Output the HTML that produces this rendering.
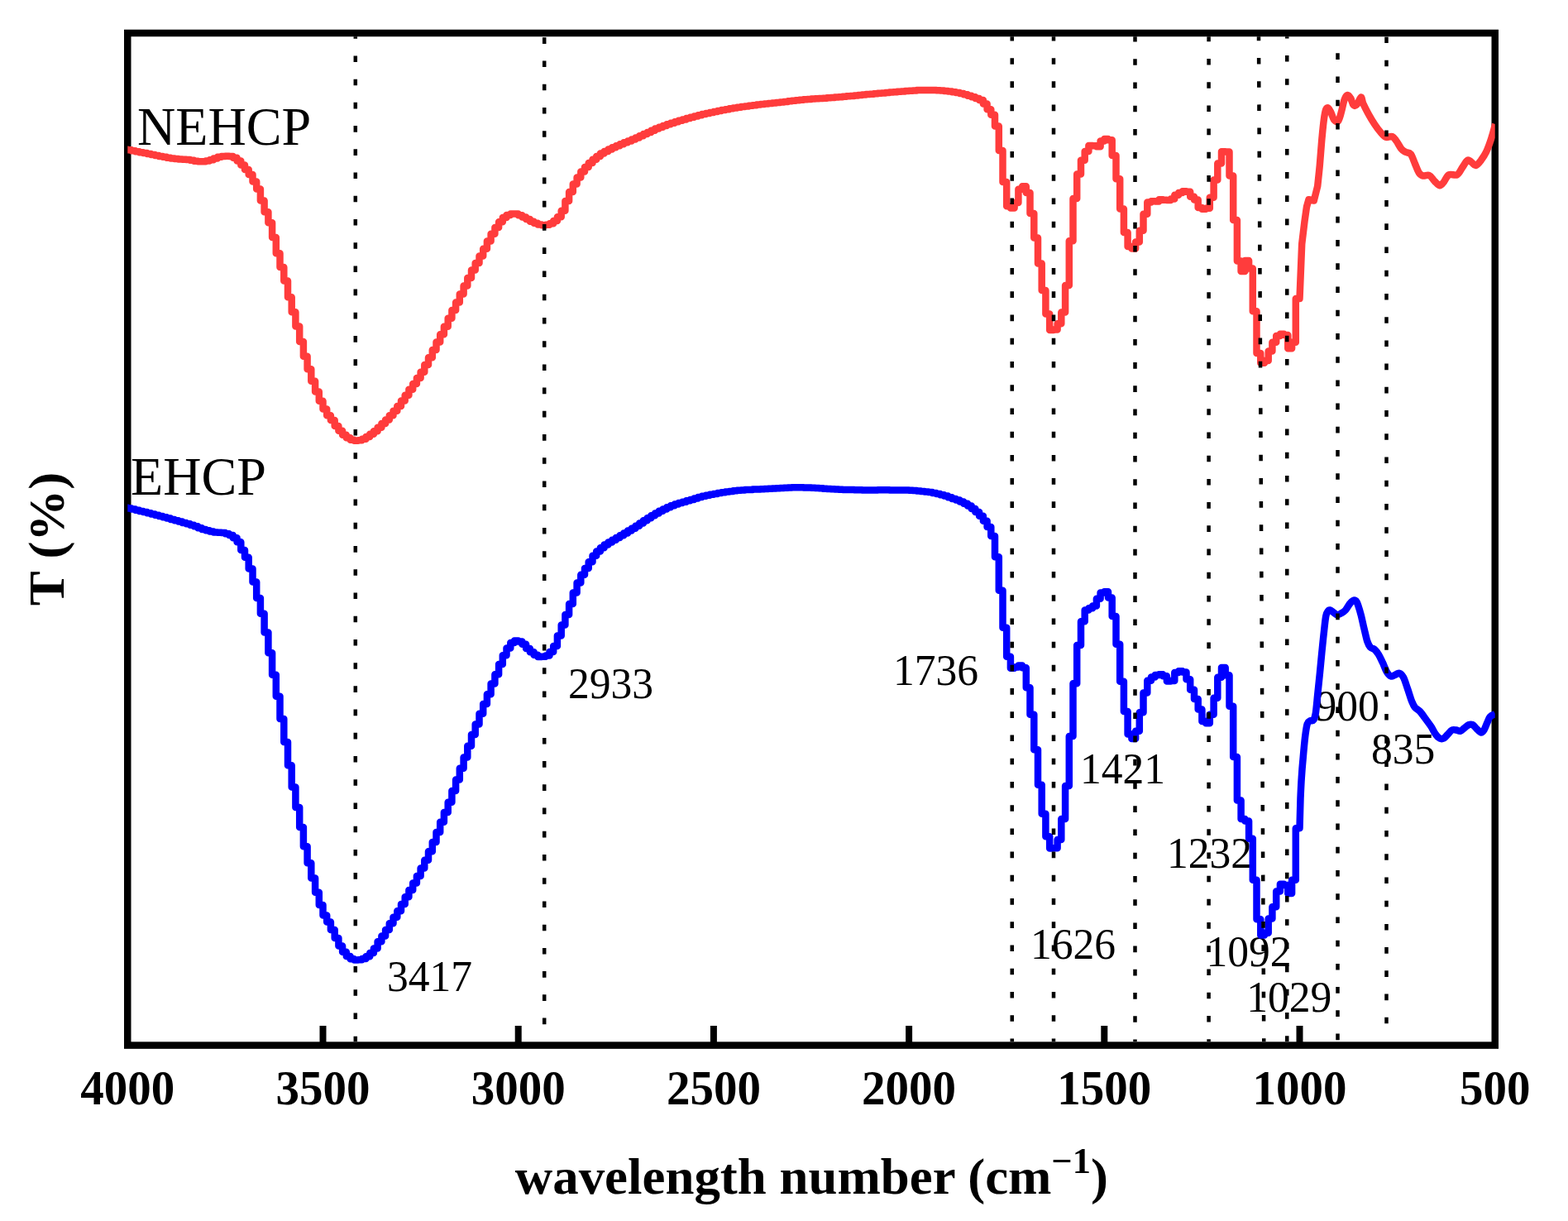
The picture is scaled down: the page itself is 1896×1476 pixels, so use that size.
<!DOCTYPE html>
<html lang="en"><head><meta charset="utf-8"><title>FTIR spectra of NEHCP and EHCP</title>
<style>
html,body{margin:0;padding:0;background:#fff;}
body{width:1896px;height:1476px;overflow:hidden;}
svg{display:block;}
text{font-family:"Liberation Serif","Times New Roman",serif;fill:#000;}
.b{font-weight:bold;}
.tick{font-size:57px;font-weight:bold;text-anchor:middle;}
.pk{font-size:51.6px;}
.nm{font-size:63.5px;}
</style></head><body>
<svg xmlns="http://www.w3.org/2000/svg" width="1896" height="1476" viewBox="0 0 1896 1476">
<rect x="0" y="0" width="1896" height="1476" fill="#ffffff"/>
<rect x="154.25" y="40.00" width="1653.50" height="1223.60" fill="none" stroke="#000" stroke-width="8.5"/>
<g stroke="#000" stroke-width="8" fill="none">
<line x1="390.50" y1="1263.6" x2="390.50" y2="1240.0"/>
<line x1="626.70" y1="1263.6" x2="626.70" y2="1240.0"/>
<line x1="862.90" y1="1263.6" x2="862.90" y2="1240.0"/>
<line x1="1099.10" y1="1263.6" x2="1099.10" y2="1240.0"/>
<line x1="1335.30" y1="1263.6" x2="1335.30" y2="1240.0"/>
<line x1="1571.50" y1="1263.6" x2="1571.50" y2="1240.0"/>
</g>
<text transform="translate(154.30 1334.50) scale(1 1.0300)" font-size="57.00" font-weight="bold" text-anchor="middle">4000</text>
<text transform="translate(390.50 1334.50) scale(1 1.0300)" font-size="57.00" font-weight="bold" text-anchor="middle">3500</text>
<text transform="translate(626.70 1334.50) scale(1 1.0300)" font-size="57.00" font-weight="bold" text-anchor="middle">3000</text>
<text transform="translate(862.90 1334.50) scale(1 1.0300)" font-size="57.00" font-weight="bold" text-anchor="middle">2500</text>
<text transform="translate(1099.10 1334.50) scale(1 1.0300)" font-size="57.00" font-weight="bold" text-anchor="middle">2000</text>
<text transform="translate(1335.30 1334.50) scale(1 1.0300)" font-size="57.00" font-weight="bold" text-anchor="middle">1500</text>
<text transform="translate(1571.50 1334.50) scale(1 1.0300)" font-size="57.00" font-weight="bold" text-anchor="middle">1000</text>
<text transform="translate(1807.70 1334.50) scale(1 1.0300)" font-size="57.00" font-weight="bold" text-anchor="middle">500</text>
<text font-weight="bold" transform="translate(622.8 1443.4) scale(1 0.98)" font-size="62.9">wavelength number (cm<tspan font-size="44.5" dy="-26.3">−1</tspan><tspan dy="26.3">)</tspan></text>
<text font-weight="bold" transform="translate(77 651.5) rotate(-90) scale(1 0.99)" font-size="62.9" text-anchor="middle">T (%)</text>
<text transform="translate(166.00 175.00) scale(1 1.0180)" font-size="64.10">NEHCP</text>
<text transform="translate(158.00 597.50) scale(1 1.0180)" font-size="64.10">EHCP</text>
<text transform="translate(468.00 1198.00) scale(1 1.0400)" font-size="51.60">3417</text>
<text transform="translate(687.00 843.50) scale(1 1.0400)" font-size="51.60">2933</text>
<text transform="translate(1080.00 827.50) scale(1 1.0400)" font-size="51.60">1736</text>
<text transform="translate(1306.00 947.30) scale(1 1.0400)" font-size="51.60">1421</text>
<text transform="translate(1246.00 1158.60) scale(1 1.0400)" font-size="51.60">1626</text>
<text transform="translate(1411.00 1048.70) scale(1 1.0400)" font-size="51.60">1232</text>
<text transform="translate(1458.50 1167.50) scale(1 1.0400)" font-size="51.60">1092</text>
<text transform="translate(1507.20 1223.30) scale(1 1.0400)" font-size="51.60">1029</text>
<text transform="translate(1590.50 870.50) scale(1 1.0400)" font-size="51.60">900</text>
<text transform="translate(1658.00 922.50) scale(1 1.0400)" font-size="51.60">835</text>
<clipPath id="cp"><rect x="154.30" y="40.00" width="1653.40" height="1223.60"/></clipPath>
<g fill="none" stroke-width="8.5" stroke-linejoin="round" stroke-linecap="butt" clip-path="url(#cp)">
<path stroke="#ff3c3c" d="M153.3 180.8L154.3 180.8L154.3 181.3L159.0 181.3L159.0 182.3L163.7 182.3L163.7 183.2L168.5 183.2L168.5 184.2L173.2 184.2L173.2 185.1L177.9 185.1L177.9 186.1L182.6 186.1L182.6 187.0L187.4 187.0L187.4 187.9L192.1 187.9L192.1 188.9L196.8 188.9L196.8 189.8L201.5 189.8L201.5 190.7L206.3 190.7L206.3 191.5L211.0 191.5L211.0 192.1L215.7 192.1L215.7 192.5L220.4 192.5L220.4 192.8L225.2 192.8L225.2 193.1L229.9 193.1L229.9 193.7L234.6 193.7L234.6 194.7L239.3 194.7L239.3 195.3L244.1 195.3L244.1 195.2L248.8 195.2L248.8 194.5L253.5 194.5L253.5 193.2L258.2 193.2L258.2 191.5L263.0 191.5L263.0 189.8L267.7 189.8L267.7 189.0L272.4 189.0L272.4 188.7L277.1 188.7L277.1 189.0L281.8 189.0L281.8 190.7L286.6 190.7L286.6 194.4L291.3 194.4L291.3 199.4L296.0 199.4L296.0 205.1L300.7 205.1L300.7 210.9L305.5 210.9L305.5 219.4L310.2 219.4L310.2 228.4L314.9 228.4L314.9 242.5L319.6 242.5L319.6 256.3L324.4 256.3L324.4 269.3L329.1 269.3L329.1 286.9L333.8 286.9L333.8 306.3L338.5 306.3L338.5 323.0L343.3 323.0L343.3 339.5L348.0 339.5L348.0 359.2L352.7 359.2L352.7 377.2L357.4 377.2L357.4 394.6L362.2 394.6L362.2 413.1L366.9 413.1L366.9 430.8L371.6 430.8L371.6 446.3L376.3 446.3L376.3 460.7L381.1 460.7L381.1 473.4L385.8 473.4L385.8 484.7L390.5 484.7L390.5 494.6L395.2 494.6L395.2 502.2L399.9 502.2L399.9 508.1L404.7 508.1L404.7 514.9L409.4 514.9L409.4 520.7L414.1 520.7L414.1 525.7L418.8 525.7L418.8 529.3L423.6 529.3L423.6 531.7L428.3 531.7L428.3 532.8L433.0 532.8L433.0 532.3L437.7 532.3L437.7 530.7L442.5 530.7L442.5 528.0L447.2 528.0L447.2 524.8L451.9 524.8L451.9 521.3L456.6 521.3L456.6 516.8L461.4 516.8L461.4 512.1L466.1 512.1L466.1 507.5L470.8 507.5L470.8 502.3L475.5 502.3L475.5 496.8L480.3 496.8L480.3 490.9L485.0 490.9L485.0 484.4L489.7 484.4L489.7 477.7L494.4 477.7L494.4 470.8L499.2 470.8L499.2 463.9L503.9 463.9L503.9 457.1L508.6 457.1L508.6 449.8L513.3 449.8L513.3 441.1L518.0 441.1L518.0 432.2L522.8 432.2L522.8 423.0L527.5 423.0L527.5 413.6L532.2 413.6L532.2 404.2L536.9 404.2L536.9 394.8L541.7 394.8L541.7 384.8L546.4 384.8L546.4 374.9L551.1 374.9L551.1 365.5L555.8 365.5L555.8 355.6L560.6 355.6L560.6 345.5L565.3 345.5L565.3 335.9L570.0 335.9L570.0 326.4L574.7 326.4L574.7 318.0L579.5 318.0L579.5 309.4L584.2 309.4L584.2 300.7L588.9 300.7L588.9 291.6L593.6 291.6L593.6 282.8L598.4 282.8L598.4 275.0L603.1 275.0L603.1 268.2L607.8 268.2L607.8 263.1L612.5 263.1L612.5 260.1L617.3 260.1L617.3 258.4L622.0 258.4L622.0 258.5L626.7 258.5L626.7 260.3L631.4 260.3L631.4 262.6L636.1 262.6L636.1 265.1L640.9 265.1L640.9 267.7L645.6 267.7L645.6 269.8L650.3 269.8L650.3 271.5L655.0 271.5L655.0 272.3L659.8 272.3L659.8 271.8L664.5 271.8L664.5 270.2L669.2 270.2L669.2 267.1L673.9 267.1L673.9 262.2L678.7 262.2L678.7 254.7L683.4 254.7L683.4 243.0L688.1 243.0L688.1 232.0L692.8 232.0L692.8 222.6L697.6 222.6L697.6 214.5L702.3 214.5L702.3 207.6L707.0 207.6L707.0 201.9L711.7 201.9L711.7 197.0L716.5 197.0L716.5 192.7L721.2 192.7L721.2 188.9L725.9 188.9L725.9 185.6L730.6 185.6L730.6 182.9L735.4 182.9L735.4 180.4L740.1 180.4L740.1 178.3L744.8 178.3L744.8 176.2L749.5 176.2L749.5 174.2L754.2 174.2L754.2 172.3L759.0 172.3L759.0 170.5L763.7 170.5L763.7 168.6L768.4 168.6L768.4 166.5L773.1 166.5L773.1 164.3L777.9 164.3L777.9 162.1L782.6 162.1L782.6 159.9L787.3 159.9L787.3 157.8L792.0 157.8L792.0 155.6L796.8 155.6L796.8 153.7L801.5 153.7L801.5 151.9L806.2 151.9L806.2 150.3L810.9 150.3L810.9 148.8L815.7 148.8L815.7 147.3L820.4 147.3L820.4 145.8L825.1 145.8L825.1 144.4L829.8 144.4L829.8 143.0L834.6 143.0L834.6 141.7L839.3 141.7L839.3 140.4L844.0 140.4L844.0 139.2L848.7 139.2L848.7 138.1L853.5 138.1L853.5 137.0L858.2 137.0L858.2 136.0L862.9 136.0L862.9 135.0L867.6 135.0L867.6 134.0L872.3 134.0L872.3 133.0L877.1 133.0L877.1 132.2L881.8 132.2L881.8 131.3L886.5 131.3L886.5 130.5L891.2 130.5L891.2 129.8L896.0 129.8L896.0 129.1L900.7 129.1L900.7 128.4L905.4 128.4L905.4 127.8L910.1 127.8L910.1 127.2L914.9 127.2L914.9 126.6L919.6 126.6L919.6 126.0L924.3 126.0L924.3 125.5L929.0 125.5L929.0 125.0L933.8 125.0L933.8 124.5L938.5 124.5L938.5 123.9L943.2 123.9L943.2 123.4L947.9 123.4L947.9 122.9L952.7 122.9L952.7 122.3L957.4 122.3L957.4 121.7L962.1 121.7L962.1 121.2L966.8 121.2L966.8 120.7L971.6 120.7L971.6 120.3L976.3 120.3L976.3 119.9L981.0 119.9L981.0 119.6L985.7 119.6L985.7 119.3L990.4 119.3L990.4 119.0L995.2 119.0L995.2 118.7L999.9 118.7L999.9 118.3L1004.6 118.3L1004.6 118.0L1009.3 118.0L1009.3 117.6L1014.1 117.6L1014.1 117.2L1018.8 117.2L1018.8 116.7L1023.5 116.7L1023.5 116.3L1028.2 116.3L1028.2 115.9L1033.0 115.9L1033.0 115.4L1037.7 115.4L1037.7 115.0L1042.4 115.0L1042.4 114.6L1047.1 114.6L1047.1 114.1L1051.9 114.1L1051.9 113.7L1056.6 113.7L1056.6 113.3L1061.3 113.3L1061.3 112.8L1066.0 112.8L1066.0 112.4L1070.8 112.4L1070.8 112.0L1075.5 112.0L1075.5 111.6L1080.2 111.6L1080.2 111.2L1084.9 111.2L1084.9 110.8L1089.7 110.8L1089.7 110.4L1094.4 110.4L1094.4 110.0L1099.1 110.0L1099.1 109.7L1103.8 109.7L1103.8 109.4L1108.5 109.4L1108.5 109.1L1113.3 109.1L1113.3 109.0L1118.0 109.0L1118.0 108.9L1122.7 108.9L1122.7 108.9L1127.4 108.9L1127.4 109.0L1132.2 109.0L1132.2 109.2L1136.9 109.2L1136.9 109.5L1141.6 109.5L1141.6 109.9L1146.3 109.9L1146.3 110.5L1151.1 110.5L1151.1 111.2L1155.8 111.2L1155.8 112.0L1160.5 112.0L1160.5 113.1L1165.2 113.1L1165.2 114.2L1170.0 114.2L1170.0 115.7L1174.7 115.7L1174.7 117.3L1179.4 117.3L1179.4 118.9L1184.1 118.9L1184.1 120.9L1188.9 120.9L1188.9 125.4L1193.6 125.4L1193.6 132.3L1198.3 132.3L1198.3 138.8L1203.0 138.8L1203.0 152.5L1207.8 152.5L1207.8 182.1L1212.5 182.1L1212.5 220.0L1217.2 220.0L1217.2 249.3L1221.9 249.3L1221.9 251.5L1226.6 251.5L1226.6 245.0L1231.4 245.0L1231.4 228.8L1236.1 228.8L1236.1 225.2L1240.8 225.2L1240.8 233.1L1245.5 233.1L1245.5 258.1L1250.3 258.1L1250.3 287.5L1255.0 287.5L1255.0 318.5L1259.7 318.5L1259.7 351.0L1264.4 351.0L1264.4 379.4L1269.2 379.4L1269.2 399.1L1273.9 399.1L1273.9 398.5L1278.6 398.5L1278.6 391.2L1283.3 391.2L1283.3 377.5L1288.1 377.5L1288.1 345.0L1292.8 345.0L1292.8 291.2L1297.5 291.2L1297.5 240.0L1302.2 240.0L1302.2 210.4L1307.0 210.4L1307.0 193.8L1311.7 193.8L1311.7 182.9L1316.4 182.9L1316.4 176.1L1321.1 176.1L1321.1 176.3L1325.9 176.3L1325.9 177.2L1330.6 177.2L1330.6 170.5L1335.3 170.5L1335.3 168.0L1340.0 168.0L1340.0 169.3L1344.7 169.3L1344.7 187.9L1349.5 187.9L1349.5 216.3L1354.2 216.3L1354.2 252.5L1358.9 252.5L1358.9 281.0L1363.6 281.0L1363.6 298.1L1368.4 298.1L1368.4 300.4L1373.1 300.4L1373.1 292.5L1377.8 292.5L1377.8 278.7L1382.5 278.7L1382.5 258.7L1387.3 258.7L1387.3 244.6L1392.0 244.6L1392.0 243.2L1396.7 243.2L1396.7 243.5L1401.4 243.5L1401.4 241.3L1406.2 241.3L1406.2 241.7L1410.9 241.7L1410.9 241.9L1415.6 241.9L1415.6 240.6L1420.3 240.6L1420.3 235.7L1425.1 235.7L1425.1 233.0L1429.8 233.0L1429.8 231.2L1434.5 231.2L1434.5 231.7L1439.2 231.7L1439.2 237.7L1444.0 237.7L1444.0 241.6L1448.7 241.6L1448.7 251.0L1453.4 251.0L1453.4 252.8L1458.1 252.8L1458.1 251.7L1462.8 251.7L1462.8 238.8L1467.6 238.8L1467.6 217.5L1472.3 217.5L1472.3 197.5L1477.0 197.5L1477.0 183.3L1481.7 183.3L1481.7 183.4L1486.5 183.4L1486.5 212.5L1491.2 212.5L1491.2 266.0L1495.9 266.0L1495.9 315.6L1500.6 315.6L1500.6 328.1L1505.4 328.1L1505.4 315.0L1510.1 315.0L1510.1 324.4L1514.8 324.4L1514.8 376.3L1519.5 376.3L1519.5 426.9L1524.3 426.9L1524.3 438.8L1529.0 438.8L1529.0 436.1L1533.7 436.1L1533.7 424.4L1538.4 424.4L1538.4 413.7L1543.2 413.7L1543.2 405.9L1547.9 405.9L1547.9 403.8L1552.6 403.8L1552.6 405.0L1557.3 405.0L1557.3 421.3L1562.1 421.3L1562.1 413.8L1566.8 413.8L1566.8 361.0L1571.5 361.0L1574.2 295.0L1577.5 267.5L1580.0 250.0L1582.5 241.2L1588.8 242.5L1593.2 225.0C1593.7 220.8 1594.9 209.2 1595.8 200.0C1596.6 190.8 1597.4 179.2 1598.2 170.0C1599.1 160.8 1599.9 151.2 1600.8 145.0C1601.6 138.8 1602.3 134.9 1603.2 132.5C1604.2 130.1 1605.2 130.1 1606.2 130.8C1607.3 131.4 1608.3 133.9 1609.5 136.2C1610.7 138.6 1611.8 143.3 1613.2 145.0C1614.7 146.7 1616.8 147.9 1618.2 146.2C1619.7 144.6 1620.8 139.4 1622.0 135.0C1623.2 130.6 1624.5 123.3 1625.8 120.0C1627.0 116.7 1628.2 115.2 1629.5 115.0C1630.8 114.8 1632.1 116.8 1633.2 118.8C1634.4 120.8 1635.2 125.8 1636.5 127.0C1637.8 128.2 1639.2 127.8 1640.8 126.2C1642.3 124.7 1644.5 117.7 1645.8 117.5C1647.0 117.3 1646.8 121.7 1648.2 125.0C1649.7 128.3 1652.2 133.3 1654.5 137.5C1656.8 141.7 1659.5 146.2 1662.0 150.0C1664.5 153.8 1667.2 157.4 1669.5 160.0C1671.8 162.6 1673.5 164.9 1675.8 165.8C1678.0 166.6 1681.2 164.3 1683.2 165.0C1685.3 165.7 1686.4 167.5 1688.2 170.0C1690.1 172.5 1692.6 177.7 1694.5 180.0C1696.4 182.3 1697.6 182.7 1699.5 183.8C1701.4 184.8 1703.9 184.0 1705.8 186.2C1707.6 188.5 1709.1 193.8 1710.8 197.5C1712.4 201.2 1714.1 206.2 1715.8 208.8C1717.4 211.2 1718.7 212.0 1720.8 212.5C1722.8 213.0 1726.0 211.0 1728.2 212.0C1730.5 213.0 1732.4 216.7 1734.5 218.8C1736.6 220.8 1738.9 224.0 1740.8 224.2C1742.6 224.5 1743.9 222.2 1745.8 220.0C1747.6 217.8 1749.3 212.7 1752.0 211.2C1754.7 209.8 1759.3 212.7 1762.0 211.2C1764.7 209.8 1766.2 205.4 1768.2 202.5C1770.3 199.6 1772.6 194.8 1774.5 193.8C1776.4 192.7 1777.8 195.2 1779.5 196.2C1781.2 197.3 1782.6 200.4 1784.5 200.0C1786.4 199.6 1788.7 196.5 1790.8 193.8C1792.8 191.0 1794.9 188.1 1797.0 183.8C1799.1 179.4 1801.4 173.1 1803.2 167.5C1805.1 161.9 1807.4 152.9 1808.2 150.0"/>
<path stroke="#0000ff" d="M153.3 613.8L154.3 613.8L154.3 614.5L159.0 614.5L159.0 615.6L163.7 615.6L163.7 616.7L168.5 616.7L168.5 617.9L173.2 617.9L173.2 619.0L177.9 619.0L177.9 620.2L182.6 620.2L182.6 621.4L187.4 621.4L187.4 622.7L192.1 622.7L192.1 624.0L196.8 624.0L196.8 625.3L201.5 625.3L201.5 626.6L206.3 626.6L206.3 627.9L211.0 627.9L211.0 629.3L215.7 629.3L215.7 630.6L220.4 630.6L220.4 631.9L225.2 631.9L225.2 633.2L229.9 633.2L229.9 634.7L234.6 634.7L234.6 636.3L239.3 636.3L239.3 638.2L244.1 638.2L244.1 639.9L248.8 639.9L248.8 641.3L253.5 641.3L253.5 642.5L258.2 642.5L258.2 643.4L263.0 643.4L263.0 643.8L267.7 643.8L267.7 644.0L272.4 644.0L272.4 645.2L277.1 645.2L277.1 647.0L281.8 647.0L281.8 650.3L286.6 650.3L286.6 655.2L291.3 655.2L291.3 665.1L296.0 665.1L296.0 673.7L300.7 673.7L300.7 687.6L305.5 687.6L305.5 703.5L310.2 703.5L310.2 722.9L314.9 722.9L314.9 741.8L319.6 741.8L319.6 764.4L324.4 764.4L324.4 789.3L329.1 789.3L329.1 815.8L333.8 815.8L333.8 841.8L338.5 841.8L338.5 868.9L343.3 868.9L343.3 897.1L348.0 897.1L348.0 925.2L352.7 925.2L352.7 951.4L357.4 951.4L357.4 976.1L362.2 976.1L362.2 1000.1L366.9 1000.1L366.9 1023.3L371.6 1023.3L371.6 1043.2L376.3 1043.2L376.3 1061.4L381.1 1061.4L381.1 1078.8L385.8 1078.8L385.8 1093.9L390.5 1093.9L390.5 1106.6L395.2 1106.6L395.2 1114.5L399.9 1114.5L399.9 1123.9L404.7 1123.9L404.7 1133.9L409.4 1133.9L409.4 1143.5L414.1 1143.5L414.1 1150.7L418.8 1150.7L418.8 1155.9L423.6 1155.9L423.6 1159.2L428.3 1159.2L428.3 1160.5L433.0 1160.5L433.0 1160.2L437.7 1160.2L437.7 1159.0L442.5 1159.0L442.5 1156.3L447.2 1156.3L447.2 1152.0L451.9 1152.0L451.9 1146.4L456.6 1146.4L456.6 1138.3L461.4 1138.3L461.4 1131.5L466.1 1131.5L466.1 1124.1L470.8 1124.1L470.8 1116.3L475.5 1116.3L475.5 1108.8L480.3 1108.8L480.3 1101.2L485.0 1101.2L485.0 1092.9L489.7 1092.9L489.7 1084.3L494.4 1084.3L494.4 1075.9L499.2 1075.9L499.2 1067.4L503.9 1067.4L503.9 1058.9L508.6 1058.9L508.6 1049.5L513.3 1049.5L513.3 1039.7L518.0 1039.7L518.0 1029.2L522.8 1029.2L522.8 1017.9L527.5 1017.9L527.5 1006.1L532.2 1006.1L532.2 993.8L536.9 993.8L536.9 981.9L541.7 981.9L541.7 969.7L546.4 969.7L546.4 956.1L551.1 956.1L551.1 942.5L555.8 942.5L555.8 928.7L560.6 928.7L560.6 915.5L565.3 915.5L565.3 901.8L570.0 901.8L570.0 888.0L574.7 888.0L574.7 875.4L579.5 875.4L579.5 862.8L584.2 862.8L584.2 850.9L588.9 850.9L588.9 839.2L593.6 839.2L593.6 826.6L598.4 826.6L598.4 815.2L603.1 815.2L603.1 802.9L607.8 802.9L607.8 792.3L612.5 792.3L612.5 783.4L617.3 783.4L617.3 777.0L622.0 777.0L622.0 774.5L626.7 774.5L626.7 775.6L631.4 775.6L631.4 778.7L636.1 778.7L636.1 784.0L640.9 784.0L640.9 788.3L645.6 788.3L645.6 791.8L650.3 791.8L650.3 793.9L655.0 793.9L655.0 793.8L659.8 793.8L659.8 792.4L664.5 792.4L664.5 788.1L669.2 788.1L669.2 781.0L673.9 781.0L673.9 768.6L678.7 768.6L678.7 755.4L683.4 755.4L683.4 743.1L688.1 743.1L688.1 730.0L692.8 730.0L692.8 716.5L697.6 716.5L697.6 704.5L702.3 704.5L702.3 694.7L707.0 694.7L707.0 687.0L711.7 687.0L711.7 679.3L716.5 679.3L716.5 671.8L721.2 671.8L721.2 666.5L725.9 666.5L725.9 662.3L730.6 662.3L730.6 658.6L735.4 658.6L735.4 655.5L740.1 655.5L740.1 652.7L744.8 652.7L744.8 650.0L749.5 650.0L749.5 647.2L754.2 647.2L754.2 644.4L759.0 644.4L759.0 641.6L763.7 641.6L763.7 638.7L768.4 638.7L768.4 635.7L773.1 635.7L773.1 632.5L777.9 632.5L777.9 629.3L782.6 629.3L782.6 626.3L787.3 626.3L787.3 623.3L792.0 623.3L792.0 620.5L796.8 620.5L796.8 617.8L801.5 617.8L801.5 615.4L806.2 615.4L806.2 613.2L810.9 613.2L810.9 611.3L815.7 611.3L815.7 609.5L820.4 609.5L820.4 608.0L825.1 608.0L825.1 606.7L829.8 606.7L829.8 605.3L834.6 605.3L834.6 603.9L839.3 603.9L839.3 602.4L844.0 602.4L844.0 601.0L848.7 601.0L848.7 599.7L853.5 599.7L853.5 598.7L858.2 598.7L858.2 597.8L862.9 597.8L862.9 596.9L867.6 596.9L867.6 596.1L872.3 596.1L872.3 595.3L877.1 595.3L877.1 594.5L881.8 594.5L881.8 593.9L886.5 593.9L886.5 593.3L891.2 593.3L891.2 592.8L896.0 592.8L896.0 592.4L900.7 592.4L900.7 592.1L905.4 592.1L905.4 591.9L910.1 591.9L910.1 591.6L914.9 591.6L914.9 591.4L919.6 591.4L919.6 591.2L924.3 591.2L924.3 591.0L929.0 591.0L929.0 590.8L933.8 590.8L933.8 590.5L938.5 590.5L938.5 590.3L943.2 590.3L943.2 590.0L947.9 590.0L947.9 589.7L952.7 589.7L952.7 589.5L957.4 589.5L957.4 589.3L962.1 589.3L962.1 589.3L966.8 589.3L966.8 589.3L971.6 589.3L971.6 589.4L976.3 589.4L976.3 589.5L981.0 589.5L981.0 589.7L985.7 589.7L985.7 589.9L990.4 589.9L990.4 590.3L995.2 590.3L995.2 590.7L999.9 590.7L999.9 591.1L1004.6 591.1L1004.6 591.3L1009.3 591.3L1009.3 591.6L1014.1 591.6L1014.1 591.7L1018.8 591.7L1018.8 591.9L1023.5 591.9L1023.5 592.0L1028.2 592.0L1028.2 592.1L1033.0 592.1L1033.0 592.3L1037.7 592.3L1037.7 592.3L1042.4 592.3L1042.4 592.4L1047.1 592.4L1047.1 592.4L1051.9 592.4L1051.9 592.4L1056.6 592.4L1056.6 592.4L1061.3 592.4L1061.3 592.3L1066.0 592.3L1066.0 592.3L1070.8 592.3L1070.8 592.3L1075.5 592.3L1075.5 592.4L1080.2 592.4L1080.2 592.4L1084.9 592.4L1084.9 592.4L1089.7 592.4L1089.7 592.5L1094.4 592.5L1094.4 592.6L1099.1 592.6L1099.1 592.7L1103.8 592.7L1103.8 593.0L1108.5 593.0L1108.5 593.4L1113.3 593.4L1113.3 593.9L1118.0 593.9L1118.0 594.5L1122.7 594.5L1122.7 595.1L1127.4 595.1L1127.4 595.9L1132.2 595.9L1132.2 597.0L1136.9 597.0L1136.9 598.2L1141.6 598.2L1141.6 599.6L1146.3 599.6L1146.3 601.2L1151.1 601.2L1151.1 602.9L1155.8 602.9L1155.8 604.6L1160.5 604.6L1160.5 606.6L1165.2 606.6L1165.2 608.8L1170.0 608.8L1170.0 611.6L1174.7 611.6L1174.7 615.0L1179.4 615.0L1179.4 618.9L1184.1 618.9L1184.1 623.8L1188.9 623.8L1188.9 629.8L1193.6 629.8L1193.6 636.9L1198.3 636.9L1198.3 647.9L1203.0 647.9L1203.0 673.3L1207.8 673.3L1207.8 713.8L1212.5 713.8L1212.5 758.8L1217.2 758.8L1217.2 793.8L1221.9 793.8L1221.9 807.7L1226.6 807.7L1226.6 806.6L1231.4 806.6L1231.4 804.5L1236.1 804.5L1236.1 807.2L1240.8 807.2L1240.8 831.2L1245.5 831.2L1245.5 863.8L1250.3 863.8L1250.3 906.3L1255.0 906.3L1255.0 948.8L1259.7 948.8L1259.7 983.8L1264.4 983.8L1264.4 1011.3L1269.2 1011.3L1269.2 1025.6L1273.9 1025.6L1273.9 1025.2L1278.6 1025.2L1278.6 1015.0L1283.3 1015.0L1283.3 990.0L1288.1 990.0L1288.1 950.0L1292.8 950.0L1292.8 890.0L1297.5 890.0L1297.5 826.2L1302.2 826.2L1302.2 780.0L1307.0 780.0L1307.0 751.2L1311.7 751.2L1311.7 737.6L1316.4 737.6L1316.4 735.2L1321.1 735.2L1321.1 732.5L1325.9 732.5L1325.9 723.7L1330.6 723.7L1330.6 716.5L1335.3 716.5L1335.3 715.2L1340.0 715.2L1340.0 722.5L1344.7 722.5L1344.7 745.0L1349.5 745.0L1349.5 778.8L1354.2 778.8L1354.2 823.8L1358.9 823.8L1358.9 860.0L1363.6 860.0L1363.6 887.5L1368.4 887.5L1368.4 893.1L1373.1 893.1L1373.1 883.7L1377.8 883.7L1377.8 861.2L1382.5 861.2L1382.5 837.5L1387.3 837.5L1387.3 822.7L1392.0 822.7L1392.0 818.6L1396.7 818.6L1396.7 816.0L1401.4 816.0L1401.4 815.2L1406.2 815.2L1406.2 817.2L1410.9 817.2L1410.9 823.4L1415.6 823.4L1415.6 823.1L1420.3 823.1L1420.3 813.1L1425.1 813.1L1425.1 811.2L1429.8 811.2L1429.8 812.4L1434.5 812.4L1434.5 821.2L1439.2 821.2L1439.2 833.8L1444.0 833.8L1444.0 845.0L1448.7 845.0L1448.7 857.5L1453.4 857.5L1453.4 872.0L1458.1 872.0L1458.1 874.2L1462.8 874.2L1462.8 863.8L1467.6 863.8L1467.6 843.7L1472.3 843.7L1472.3 818.7L1477.0 818.7L1477.0 807.0L1481.7 807.0L1481.7 816.2L1486.5 816.2L1486.5 853.8L1491.2 853.8L1491.2 915.0L1495.9 915.0L1495.9 967.5L1500.6 967.5L1500.6 990.0L1505.4 990.0L1505.4 992.5L1510.1 992.5L1510.1 1013.8L1514.8 1013.8L1514.8 1063.8L1519.5 1063.8L1519.5 1111.2L1524.3 1111.2L1524.3 1130.6L1529.0 1130.6L1529.0 1127.8L1533.7 1127.8L1533.7 1110.6L1538.4 1110.6L1538.4 1096.2L1543.2 1096.2L1543.2 1077.5L1547.9 1077.5L1547.9 1068.8L1552.6 1068.8L1552.6 1070.0L1557.3 1070.0L1557.3 1080.0L1562.1 1080.0L1562.1 1063.8L1566.8 1063.8L1566.8 1001.2L1571.5 1001.2L1572.5 965.0C1572.7 960.8 1573.2 948.3 1573.8 940.0C1574.3 931.7 1575.0 923.3 1575.8 915.0C1576.5 906.7 1577.4 896.7 1578.2 890.0C1579.1 883.3 1579.7 878.1 1580.8 875.0C1581.8 871.9 1583.2 872.0 1584.5 871.2C1585.8 870.5 1587.2 872.0 1588.2 870.5C1589.3 869.0 1589.9 867.6 1590.8 862.5C1591.6 857.4 1592.4 847.9 1593.2 840.0C1594.1 832.1 1594.9 823.3 1595.8 815.0C1596.6 806.7 1597.4 798.3 1598.2 790.0C1599.1 781.7 1599.9 772.5 1600.8 765.0C1601.6 757.5 1602.4 749.4 1603.2 745.0C1604.1 740.6 1604.9 740.0 1605.8 738.8C1606.6 737.5 1607.2 737.3 1608.2 737.5C1609.3 737.7 1610.5 739.0 1612.0 740.0C1613.5 741.0 1615.3 743.0 1617.0 743.2C1618.7 743.5 1620.3 742.2 1622.0 741.2C1623.7 740.3 1625.3 739.4 1627.0 737.5C1628.7 735.6 1630.5 731.9 1632.0 730.0C1633.5 728.1 1634.5 726.9 1635.8 726.2C1637.0 725.6 1638.5 725.4 1639.5 726.2C1640.5 727.1 1641.0 728.3 1642.0 731.2C1643.0 734.2 1644.5 739.0 1645.8 743.8C1647.0 748.5 1648.2 754.8 1649.5 760.0C1650.8 765.2 1652.0 771.2 1653.2 775.0C1654.5 778.8 1655.5 780.8 1657.0 782.5C1658.5 784.2 1660.3 783.5 1662.0 785.0C1663.7 786.5 1665.3 788.5 1667.0 791.2C1668.7 794.0 1670.3 797.7 1672.0 801.2C1673.7 804.8 1675.3 809.8 1677.0 812.5C1678.7 815.2 1680.3 817.0 1682.0 817.5C1683.7 818.0 1685.3 816.4 1687.0 815.8C1688.7 815.1 1690.3 813.2 1692.0 813.8C1693.7 814.2 1695.3 815.6 1697.0 818.8C1698.7 821.9 1700.3 827.7 1702.0 832.5C1703.7 837.3 1705.5 843.8 1707.0 847.5C1708.5 851.2 1709.1 852.9 1710.8 855.0C1712.4 857.1 1714.7 857.5 1717.0 860.0C1719.3 862.5 1722.2 866.9 1724.5 870.0C1726.8 873.1 1728.9 875.8 1730.8 878.8C1732.6 881.7 1734.1 885.2 1735.8 887.5C1737.4 889.8 1739.1 891.7 1740.8 892.5C1742.4 893.3 1744.1 893.3 1745.8 892.5C1747.4 891.7 1749.1 889.2 1750.8 887.5C1752.4 885.8 1754.1 883.3 1755.8 882.5C1757.4 881.7 1759.1 882.3 1760.8 882.5C1762.4 882.7 1764.1 884.2 1765.8 883.8C1767.4 883.3 1769.1 881.2 1770.8 880.0C1772.4 878.8 1774.1 876.9 1775.8 876.2C1777.4 875.6 1779.1 875.4 1780.8 876.2C1782.4 877.1 1784.1 879.7 1785.8 881.2C1787.4 882.8 1789.3 885.3 1790.8 885.5C1792.2 885.7 1793.2 884.5 1794.5 882.5C1795.8 880.5 1797.0 876.5 1798.2 873.8C1799.5 871.0 1800.3 868.0 1802.0 866.2C1803.7 864.5 1807.2 863.8 1808.2 863.2"/>
</g>
<clipPath id="cd"><rect x="154.25" y="44.25" width="1653.50" height="1215.10"/></clipPath>
<g stroke="#000" stroke-width="4.5" fill="none" clip-path="url(#cd)">
<line x1="429.80" y1="39.2" x2="429.80" y2="1262.0" stroke-dasharray="7.6 20.62"/>
<line x1="658.20" y1="45.3" x2="658.20" y2="1239.5" stroke-dasharray="7.6 20.62"/>
<line x1="1223.75" y1="13.7" x2="1223.75" y2="1262.0" stroke-dasharray="7.6 20.62"/>
<line x1="1274.00" y1="13.7" x2="1274.00" y2="1262.0" stroke-dasharray="7.6 20.62"/>
<line x1="1372.50" y1="14.8" x2="1372.50" y2="1262.0" stroke-dasharray="7.6 20.62"/>
<line x1="1461.60" y1="14.5" x2="1461.60" y2="1262.0" stroke-dasharray="7.6 20.62"/>
<line x1="1521.84" y1="13.5" x2="1528.27" y2="1262.0" stroke-dasharray="7.6 20.62"/>
<line x1="1556.25" y1="38.8" x2="1556.25" y2="1262.0" stroke-dasharray="7.6 20.62"/>
<line x1="1617.50" y1="64.3" x2="1617.50" y2="1258.0" stroke-dasharray="7.6 20.62"/>
<line x1="1676.50" y1="16.3" x2="1676.50" y2="1237.8" stroke-dasharray="7.6 20.62"/>
</g>
</svg></body></html>
